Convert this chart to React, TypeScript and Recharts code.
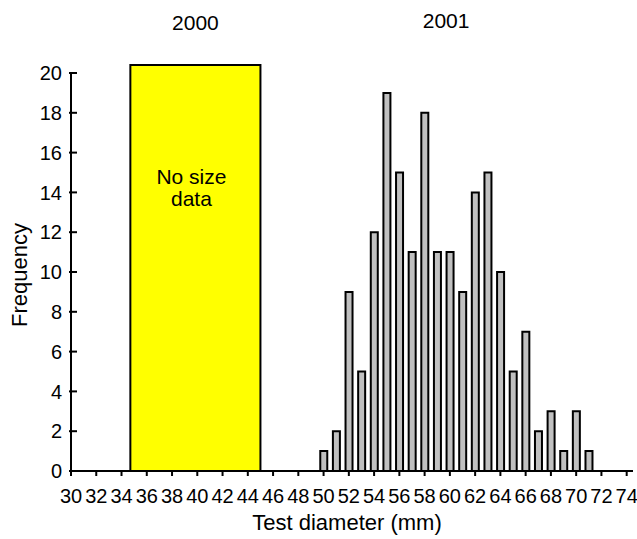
import React from 'react';
import { ComposedChart, Bar, XAxis, YAxis, ReferenceArea, ReferenceLine, Label } from 'recharts';

// 2001 test diameter classes (mm) and their frequencies
const sizes = [50, 51, 52, 53, 54, 55, 56, 57, 58, 59, 60, 61, 62, 63, 64, 65, 66, 67, 68, 69, 70, 71];
const counts2001 = [1, 2, 9, 5, 12, 19, 15, 11, 18, 11, 11, 9, 14, 15, 10, 5, 7, 2, 3, 1, 3, 1];

const xTicks = [30, 32, 34, 36, 38, 40, 42, 44, 46, 48, 50, 52, 54, 56, 58, 60, 62, 64, 66, 68, 70, 72, 74];
const yTicks = [0, 2, 4, 6, 8, 10, 12, 14, 16, 18, 20];

// 2000 had no size data: shaded box spanning these diameters
const noDataRange = { x1: 34.7, x2: 45.0, top: 20.4 };
const yearLabels = { first: '2000', second: '2001' };
const year2001Center = 59.7;

const data = sizes.map((s, i) => ({ size: s, count: counts2001[i] }));

const FONT = '"Liberation Sans", Arial, sans-serif';

const YTick = (props: any) => {
  const { x, y, payload } = props;
  return (
    <g>
      <line x1={x - 2} y1={y} x2={x + 6} y2={y} stroke="#000" strokeWidth={2} />
      <text x={x - 9} y={y} dy="0.36em" textAnchor="end" fontSize={20} fontFamily={FONT} fill="#000">
        {payload.value}
      </text>
    </g>
  );
};

const NoDataLabel = (props: any) => {
  const vb = props.viewBox;
  const cx = vb.x + vb.width / 2;
  return (
    <g fontFamily={FONT} fill="#000" textAnchor="middle">
      <text x={cx} y={30} fontSize={21}>{yearLabels.first}</text>
      <text x={cx - 4} y={vb.y + 119} fontSize={21}>No size</text>
      <text x={cx - 4} y={vb.y + 141} fontSize={21}>data</text>
    </g>
  );
};

const YearLabel = (props: any) => {
  const vb = props.viewBox;
  return (
    <text x={vb.x} y={28} fontSize={21} fontFamily={FONT} fill="#000" textAnchor="middle">
      {yearLabels.second}
    </text>
  );
};

const XTitle = (props: any) => {
  const vb = props.viewBox;
  return (
    <text x={vb.x + vb.width / 2 - 5} y={530} fontSize={22} fontFamily={FONT} fill="#000" textAnchor="middle">
      Test diameter (mm)
    </text>
  );
};

const YTitle = (props: any) => {
  const vb = props.viewBox;
  const cy = vb.y + vb.height / 2 + 3;
  return (
    <text x={27} y={cy} fontSize={22} fontFamily={FONT} fill="#000" textAnchor="middle" transform={`rotate(-90, 27, ${cy})`}>
      Frequency
    </text>
  );
};

export default function App() {
  return (
    <div style={{ position: 'absolute', left: 0, top: 0, width: 637, height: 539, background: '#fff' }}>
      <ComposedChart width={637} height={539} data={data} margin={{ top: 73, right: 4, left: 0, bottom: 0 }}>
        <ReferenceArea
          x1={noDataRange.x1}
          x2={noDataRange.x2}
          y1={0}
          y2={noDataRange.top}
          ifOverflow="visible"
          fill="#ffff00"
          fillOpacity={1}
          stroke="#000"
          strokeWidth={2}
        >
          <Label content={NoDataLabel} />
        </ReferenceArea>
        <ReferenceLine x={year2001Center} stroke="none" ifOverflow="visible">
          <Label content={YearLabel} />
        </ReferenceLine>
        <XAxis
          type="number"
          dataKey="size"
          domain={[30, 74.5]}
          ticks={xTicks}
          interval={0}
          height={68}
          tickSize={5}
          tickMargin={13}
          axisLine={{ stroke: '#000', strokeWidth: 2 }}
          tickLine={{ stroke: '#000', strokeWidth: 2 }}
          tick={{ fontSize: 20, fontFamily: FONT, fill: '#000' }}
        >
          <Label content={XTitle} />
        </XAxis>
        <YAxis
          type="number"
          domain={[0, 20]}
          ticks={yTicks}
          interval={0}
          width={71}
          tickSize={0}
          tickMargin={0}
          tickLine={false}
          axisLine={{ stroke: '#000', strokeWidth: 2 }}
          tick={<YTick />}
        >
          <Label content={YTitle} />
        </YAxis>
        <Bar dataKey="count" barSize={7} fill="#c0c0c0" stroke="#000" strokeWidth={2} isAnimationActive={false} />
      </ComposedChart>
    </div>
  );
}
